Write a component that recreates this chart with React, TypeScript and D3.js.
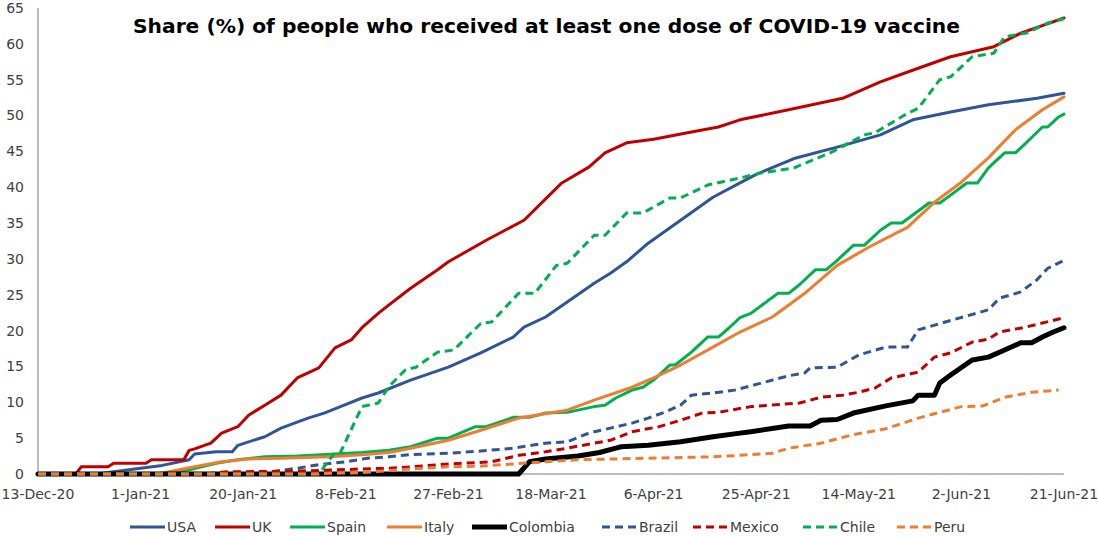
import React from "react";
import * as d3 from "d3";

// ---------- data (day offset from 13-Dec-2020, % with at least one dose) ----------
const startDate = "2020-12-13";
const endDate = "2021-06-21";
const yTicks = [0, 5, 10, 15, 20, 25, 30, 35, 40, 45, 50, 55, 60, 65];
const xTickLabels = ["13-Dec-20", "1-Jan-21", "20-Jan-21", "8-Feb-21", "27-Feb-21", "18-Mar-21", "6-Apr-21", "25-Apr-21", "14-May-21", "2-Jun-21", "21-Jun-21"];

const usa: [number, number][] = [[0,0],[11,0],[14,0.3],[19,0.8],[23,1.2],[28,2.0],[29,2.8],[33,3.1],[36,3.1],[37,4.0],[42,5.2],[45,6.4],[50,7.8],[53,8.5],[56,9.4],[60,10.6],[63,11.3],[69,13.1],[76,14.9],[82,16.9],[88,19.1],[90,20.5],[94,21.9],[99,24.5],[103,26.6],[106,28.0],[109,29.6],[113,32.2],[119,35.4],[125,38.6],[130,40.6],[133,41.8],[140,44.0],[148,45.6],[156,47.3],[162,49.4],[169,50.5],[176,51.5],[185,52.4],[190,53.1]];
const uk: [number, number][] = [[0,0],[7,0],[8,1.0],[13,1.0],[14,1.5],[20,1.5],[21,2.0],[27,2.0],[28,3.3],[29,3.5],[32,4.3],[34,5.7],[37,6.6],[39,8.2],[42,9.6],[45,11.0],[48,13.4],[52,14.8],[55,17.6],[58,18.7],[60,20.4],[63,22.4],[65,23.6],[69,25.9],[74,28.5],[76,29.6],[83,32.6],[90,35.4],[97,40.6],[102,42.8],[105,44.8],[109,46.2],[114,46.7],[121,47.7],[126,48.4],[130,49.4],[139,50.8],[149,52.4],[156,54.7],[163,56.6],[169,58.2],[177,59.6],[182,61.5],[190,63.6]];
const spain: [number, number][] = [[0,0],[23,0],[28,0.6],[33,1.5],[37,2.0],[42,2.4],[48,2.5],[55,2.8],[60,3.0],[65,3.3],[69,3.8],[74,5.0],[76,5.0],[81,6.6],[83,6.6],[88,7.9],[91,7.9],[94,8.5],[98,8.6],[103,9.4],[105,9.6],[107,10.6],[110,11.7],[112,12.1],[114,13.1],[117,15.2],[118,15.2],[121,17.0],[124,19.1],[126,19.1],[128,20.4],[130,21.8],[132,22.4],[137,25.2],[139,25.2],[141,26.4],[144,28.5],[146,28.5],[148,29.8],[151,31.9],[153,31.9],[156,34.0],[158,35.0],[160,35.0],[165,37.8],[167,37.8],[169,38.9],[172,40.6],[174,40.6],[176,42.7],[179,44.8],[181,44.8],[183,46.2],[186,48.4],[187,48.4],[189,49.8],[190,50.2]];
const italy: [number, number][] = [[0,0],[22,0],[24,0.3],[29,1.0],[34,1.7],[39,2.1],[45,2.2],[54,2.4],[60,2.7],[65,3.0],[69,3.6],[76,4.7],[82,6.1],[89,7.8],[98,8.9],[103,10.3],[110,12.1],[114,13.4],[119,15.2],[125,17.7],[130,19.8],[136,21.9],[142,25.2],[148,29.1],[154,31.7],[161,34.4],[166,37.9],[171,40.7],[176,44.1],[181,48.0],[186,50.8],[190,52.6]];
const colombia: [number, number][] = [[0,0],[89,0],[91,1.7],[94,2.1],[100,2.5],[104,3.0],[107,3.6],[108,3.8],[113,4.0],[119,4.5],[125,5.2],[130,5.7],[132,5.9],[139,6.7],[143,6.7],[145,7.5],[148,7.6],[151,8.5],[157,9.5],[162,10.2],[163,11.0],[166,11.0],[167,12.7],[169,13.8],[173,15.9],[176,16.3],[179,17.3],[182,18.3],[184,18.3],[186,19.1],[188,19.8],[190,20.4]];
const brazil: [number, number][] = [[0,0],[35,0],[42,0.2],[48,0.8],[52,1.3],[57,1.7],[61,2.2],[65,2.4],[69,2.7],[76,2.9],[82,3.2],[88,3.6],[94,4.3],[98,4.5],[102,5.7],[106,6.4],[110,7.1],[113,7.8],[116,8.6],[119,9.6],[121,11.0],[125,11.3],[129,11.7],[134,12.7],[139,13.7],[142,14.1],[143,14.8],[148,14.9],[152,16.6],[157,17.7],[161,17.7],[163,20.1],[168,21.2],[176,22.9],[178,24.5],[182,25.4],[185,27.1],[187,28.7],[190,29.8]];
const mexico: [number, number][] = [[0,0],[31,0],[35,0.3],[48,0.4],[60,0.7],[65,0.8],[69,1.0],[76,1.4],[84,1.7],[89,2.6],[94,3.1],[98,3.6],[103,4.3],[106,4.7],[110,5.9],[115,6.6],[119,7.5],[123,8.5],[126,8.6],[132,9.4],[141,9.9],[145,10.7],[149,11.0],[152,11.4],[155,12.0],[158,13.4],[163,14.2],[166,16.3],[169,16.9],[173,18.4],[176,18.8],[178,19.8],[183,20.5],[190,21.8]];
const chile: [number, number][] = [[0,0],[52,0],[55,3.0],[56,3.0],[60,9.4],[63,9.9],[65,12.2],[68,14.5],[70,14.9],[74,17.0],[77,17.3],[82,21.0],[84,21.2],[89,25.2],[92,25.2],[96,29.1],[98,29.4],[103,33.3],[105,33.3],[109,36.4],[112,36.4],[117,38.5],[119,38.5],[124,40.3],[130,41.3],[134,42.0],[140,42.7],[147,44.9],[153,47.3],[155,47.6],[161,50.3],[163,51.0],[167,55.0],[169,55.4],[173,58.2],[177,58.7],[179,61.0],[183,61.5],[187,62.9],[190,63.5]];
const peru: [number, number][] = [[0,0],[50,0],[60,0.2],[69,0.7],[76,1.0],[82,1.1],[88,1.4],[94,1.7],[100,2.0],[107,2.1],[113,2.2],[119,2.3],[125,2.4],[130,2.6],[136,2.9],[139,3.6],[145,4.3],[151,5.5],[157,6.3],[163,7.8],[167,8.6],[171,9.4],[175,9.5],[179,10.7],[184,11.4],[189,11.7]];

const seriesNames = ["USA", "UK", "Spain", "Italy", "Colombia", "Brazil", "Mexico", "Chile", "Peru"];
const seriesData = [usa, uk, spain, italy, colombia, brazil, mexico, chile, peru];

// ---------- styles ----------
const BLUE = "#2F5597";
const RED = "#C00000";
const GREEN = "#00B050";
const ORANGE = "#ED7D31";
const seriesStyle = [
  { color: BLUE, width: 3, dash: "" },
  { color: RED, width: 3, dash: "" },
  { color: GREEN, width: 3, dash: "" },
  { color: ORANGE, width: 3, dash: "" },
  { color: "#000000", width: 5, dash: "" },
  { color: BLUE, width: 3, dash: "8,5" },
  { color: RED, width: 3, dash: "8,5" },
  { color: GREEN, width: 3, dash: "8,5" },
  { color: ORANGE, width: 3, dash: "8,5" },
];
const legendLineStarts = [130, 215, 290, 387, 472, 602, 693, 803, 897];

const FONT = "'DejaVu Sans', sans-serif";
const TEXT = "#404040";
const AXIS = "#A6A6A6";

export default function App() {
  const W = 1098, H = 536;
  const parseISO = d3.timeParse("%Y-%m-%d");
  const parseTick = d3.timeParse("%d-%b-%y");
  const start = parseISO(startDate)!;
  const end = parseISO(endDate)!;
  const x = d3.scaleTime().domain([start, end]).range([38, 1064]);
  const y = d3.scaleLinear().domain([0, 65]).range([474, 8]);
  const line = d3
    .line<[number, number]>()
    .x((d) => x(d3.timeDay.offset(start, d[0])))
    .y((d) => y(d[1]));

  return (
    <div style={{ position: "absolute", left: 0, top: 0 }}>
      <svg width={W} height={H} style={{ display: "block", background: "#fff" }} fontFamily={FONT}>
        <text x={546.5} y={32.5} textAnchor="middle" fontSize={20} fontWeight="bold" fill="#000"
          textLength={827} lengthAdjust="spacingAndGlyphs">
          Share (%) of people who received at least one dose of COVID-19 vaccine
        </text>
        {/* axes */}
        <line x1={x(start)} x2={x(start)} y1={y(65)} y2={y(0)} stroke={AXIS} strokeWidth={1.5} />
        <line x1={x(start)} x2={x(end)} y1={y(0)} y2={y(0)} stroke={AXIS} strokeWidth={1.5} />
        {yTicks.map((t) => (
          <text key={t} x={24} y={y(t)} dy="0.35em" textAnchor="end" fontSize={14} fill={TEXT}>{t}</text>
        ))}
        {xTickLabels.map((lab) => (
          <text key={lab} x={x(parseTick(lab)!)} y={499} textAnchor="middle" fontSize={14} fill={TEXT}>{lab}</text>
        ))}
        {/* series */}
        {seriesData.map((s, i) => (
          <path key={seriesNames[i]} d={line(s) || ""} fill="none" stroke={seriesStyle[i].color}
            strokeWidth={seriesStyle[i].width} strokeDasharray={seriesStyle[i].dash || undefined}
            strokeLinejoin="round" strokeLinecap={seriesStyle[i].dash ? "butt" : "round"} />
        ))}
        {/* legend */}
        {seriesNames.map((n, i) => (
          <g key={n}>
            <line x1={legendLineStarts[i]} x2={legendLineStarts[i] + 35} y1={527} y2={527}
              stroke={seriesStyle[i].color} strokeWidth={seriesStyle[i].width}
              strokeDasharray={seriesStyle[i].dash || undefined} />
            <text x={legendLineStarts[i] + 37} y={532} fontSize={14} fill={TEXT}>{n}</text>
          </g>
        ))}
      </svg>
    </div>
  );
}
